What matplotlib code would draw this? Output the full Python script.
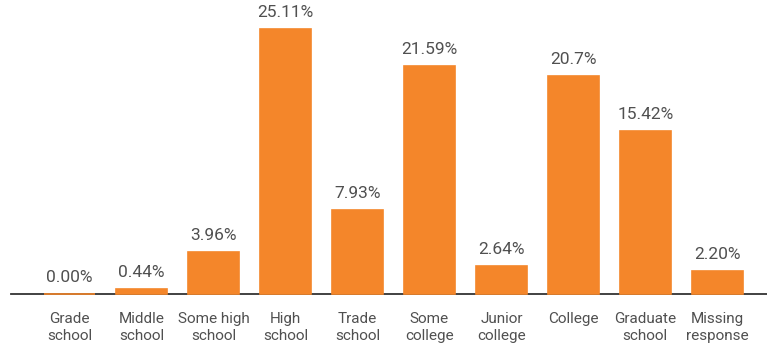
import matplotlib
matplotlib.use("Agg")
import matplotlib.pyplot as plt

categories = ["Grade\nschool", "Middle\nschool", "Some high\nschool", "High\nschool",
              "Trade\nschool", "Some\ncollege", "Junior\ncollege", "College",
              "Graduate\nschool", "Missing\nresponse"]
values = [0.00, 0.44, 3.96, 25.11, 7.93, 21.59, 2.64, 20.70, 15.42, 2.20]
value_labels = ["0.00%", "0.44%", "3.96%", "25.11%", "7.93%", "21.59%", "2.64%",
                "20.7%", "15.42%", "2.20%"]

orange = "#F4862A"
text_gray = "#505050"
fonts = ["Roboto", "DejaVu Sans"]

fig = plt.figure(figsize=(7.67, 3.5), dpi=100)
ax = fig.add_axes([11 / 767, 56 / 350, 756 / 767, 294 / 350])

x = list(range(len(categories)))
bars = ax.bar(x, values, width=0.71, color=orange, edgecolor=orange,
              linewidth=1.2, zorder=3)
for b in bars:
    b.set_clip_on(False)

for xi, v, lab in zip(x, values, value_labels):
    ax.annotate(lab, (xi, v), xytext=(0, 6.5), textcoords="offset points",
                ha="center", va="bottom", fontsize=12.5, color=text_gray,
                family=fonts)

ax.set_xlim(-0.8125, 9.69)
ax.set_ylim(0, 27.87)
ax.set_xticks(x)
ax.set_xticklabels(categories, fontsize=11, color=text_gray, family=fonts,
                   linespacing=1.25)
ax.tick_params(axis="x", length=0, pad=13)
ax.set_yticks([])
for side in ("top", "right", "left"):
    ax.spines[side].set_visible(False)
ax.spines["bottom"].set_color("#333333")
ax.spines["bottom"].set_linewidth(1.3)

fig.savefig("out.png", dpi=100)
